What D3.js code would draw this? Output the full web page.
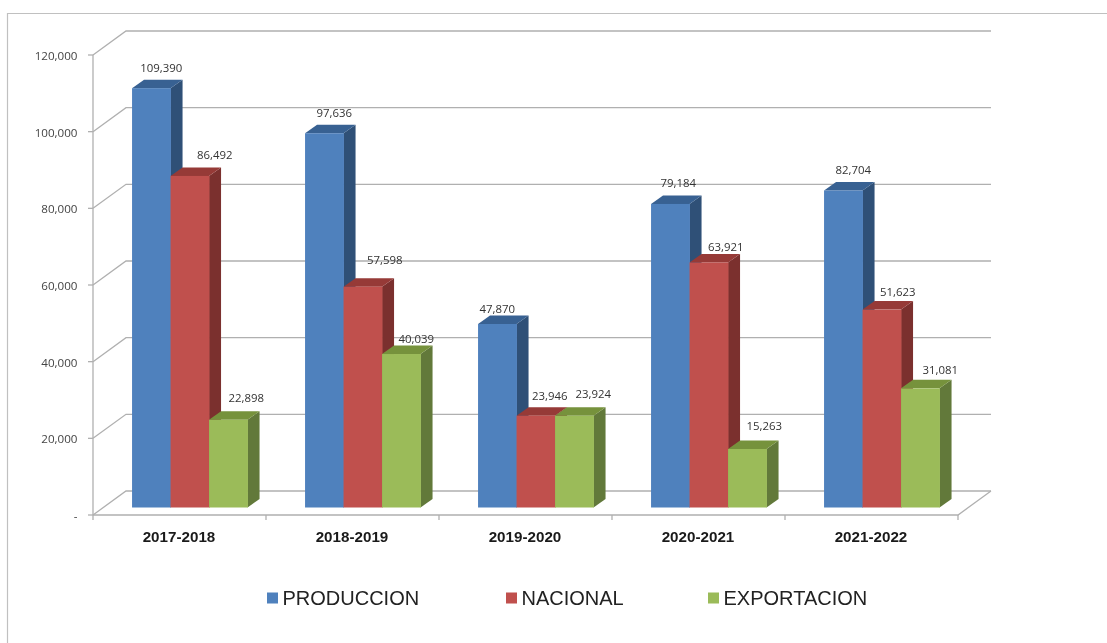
<!DOCTYPE html>
<html><head><meta charset="utf-8">
<style>html,body{margin:0;padding:0;background:#fff}svg{display:block;filter:blur(0.45px)}</style>
<script src="https://cdn.jsdelivr.net/npm/d3@7"></script></head>
<body><svg id="c" width="1107" height="643"></svg>
<script>
const categories = ["2017-2018","2018-2019","2019-2020","2020-2021","2021-2022"];
const seriesNames = ["PRODUCCION","NACIONAL","EXPORTACION"];
const produccion = [109390,97636,47870,79184,82704];
const nacional = [86492,57598,23946,63921,51623];
const exportacion = [22898,40039,23924,15263,31081];
const yTicks = [0,20000,40000,60000,80000,100000,120000];
const seriesValues = [produccion,nacional,exportacion];

// layout
const labelNudgeX = [[10,10,0,8,10],[25,22,14,17,16],[18,15,19,17,20]];
const labelNudgeY = [[-20,-20,-15,-21,-20],[-21,-27,-20,-15,-18],[-22,-15,-22,-23,-18]];
const front = ["#4f81bd","#c0504d","#9bbb59"], side = ["#2f5077","#7b302e","#62793a"], topC = ["#386192","#963a37","#76923c"];
const grid = "#b0b0b0", W = {dx:33, dy:-24}, plane = {dx:10.3, dy:-7.5}, depth = {dx:12, dy:-8.5};

const svg = d3.select("#c");
const y = d3.scaleLinear().domain([0,120000]).range([515,55]);
const x = d3.scaleBand().domain(categories).range([93,958]);
const s = d3.scaleBand().domain(seriesNames).range([0,115.5]);
const fmt = d3.format(",");

// frame
svg.append("path").attr("d","M7.5,643V13.5H1107").attr("fill","none").attr("stroke","#c0c0c0").attr("stroke-width",1.2);

// walls and gridlines
const g = svg.append("g").attr("fill","none").attr("stroke",grid).attr("stroke-width",1.3);
g.selectAll(".gl").data(yTicks).join("path")
  .attr("d",d=>`M${x.range()[0]},${y(d)}l${W.dx},${W.dy}H${x.range()[1]+W.dx}`);
g.append("path").attr("d",`M93,${y(0)}V${y(120000)}`);
g.append("path").attr("d",`M${93},${y(0)}H958l${W.dx},${W.dy}`);
g.selectAll(".tk").data(yTicks).join("path").attr("d",d=>`M88,${y(d)}h5`);
g.selectAll(".xt").data([...categories.map(c=>x(c)),958]).join("path").attr("d",d=>`M${d},515v5`);

// bars
seriesNames.forEach((n,i)=>{
  categories.forEach((c,j)=>{
    const v = seriesValues[i][j];
    const x0 = x(c)+x.bandwidth()/2-57.75+s(n)+plane.dx, w = s.bandwidth(), x1 = x0+w;
    const yT = y(v)+plane.dy, yB = y(0)+plane.dy;
    svg.append("path").attr("fill",side[i]).attr("d",`M${x1},${yT}l${depth.dx},${depth.dy}V${yB+depth.dy}l${-depth.dx},${-depth.dy}Z`);
    svg.append("path").attr("fill",topC[i]).attr("d",`M${x0},${yT}l${depth.dx},${depth.dy}h${w}l${-depth.dx},${-depth.dy}Z`);
    svg.append("rect").attr("fill",front[i]).attr("x",x0).attr("y",yT).attr("width",w+.4).attr("height",yB-yT);
  });
});
// value labels
seriesNames.forEach((n,i)=>{
  categories.forEach((c,j)=>{
    const v = seriesValues[i][j];
    const cx = x(c)+x.bandwidth()/2-57.75+s(n)+plane.dx+s.bandwidth()/2;
    svg.append("text").attr("x",cx+labelNudgeX[i][j]).attr("y",y(v)+plane.dy+labelNudgeY[i][j]).attr("dy","0.35em")
      .attr("text-anchor","middle").attr("font-family","'Open Sans',sans-serif").attr("font-size",11.4).attr("fill","#333").text(fmt(v));
  });
});
// y axis labels
svg.selectAll(".yl").data(yTicks).join("text").attr("x",77.5).attr("y",d=>y(d)+1).attr("dy","0.35em")
  .attr("text-anchor","end").attr("font-family","'Open Sans',sans-serif").attr("font-size",11.6).attr("fill","#444")
  .text(d=>d===0?"-":fmt(d));
// category labels
svg.selectAll(".cl").data(categories).join("text").attr("x",d=>x(d)+x.bandwidth()/2-0.5).attr("y",537).attr("dy","0.35em")
  .attr("text-anchor","middle").attr("font-family","'Liberation Sans',sans-serif").attr("font-weight","bold").attr("font-size",15.2).attr("fill","#1a1a1a").text(d=>d);
// legend
const lx = d3.scaleOrdinal().domain(seriesNames).range([267,506,708]);
const lg = svg.selectAll(".lg").data(seriesNames).join("g").attr("transform",d=>`translate(${lx(d)},598)`);
lg.append("rect").attr("y",-5.5).attr("width",11).attr("height",11).attr("fill",(d,i)=>front[i]);
lg.append("text").attr("x",15.5).attr("dy","0.35em").attr("font-family","'Liberation Sans',sans-serif").attr("font-size",20).attr("fill","#222").text(d=>d);
</script></body></html>
